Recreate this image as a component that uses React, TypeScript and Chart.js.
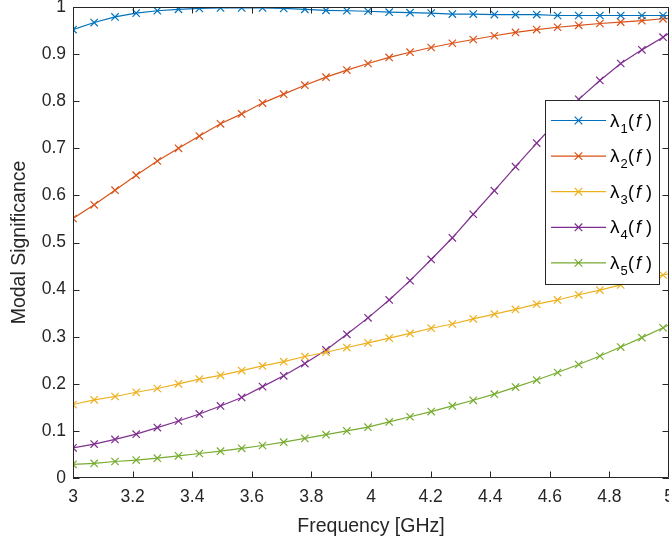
import React, { useEffect, useRef } from "react";
import { Chart, registerables } from "chart.js";

Chart.register(...registerables);

// Frequency points (GHz) carrying markers, plus the right-edge end point
const freq = [
  3.0, 3.071, 3.141, 3.212, 3.283, 3.354, 3.424, 3.495, 3.566, 3.636,
  3.707, 3.778, 3.849, 3.919, 3.99, 4.061, 4.131, 4.202, 4.273, 4.343,
  4.414, 4.485, 4.556, 4.626, 4.697, 4.768, 4.838, 4.909, 4.98, 5.0,
];

const lambda1 = [
  0.952, 0.967, 0.979, 0.987, 0.992, 0.995, 0.997, 0.998, 0.998, 0.998,
  0.997, 0.995, 0.993, 0.992, 0.991, 0.989, 0.988, 0.987, 0.985, 0.985,
  0.984, 0.984, 0.984, 0.982, 0.982, 0.982, 0.982, 0.982, 0.982, 0.982,
];
const lambda2 = [
  0.551, 0.58, 0.611, 0.643, 0.673, 0.7, 0.726, 0.752, 0.773, 0.796,
  0.815, 0.834, 0.851, 0.866, 0.88, 0.893, 0.904, 0.914, 0.923, 0.931,
  0.939, 0.946, 0.952, 0.957, 0.961, 0.965, 0.968, 0.971, 0.975, 0.976,
];
const lambda3 = [
  0.156, 0.166, 0.173, 0.182, 0.19, 0.2, 0.21, 0.218, 0.228, 0.238,
  0.247, 0.258, 0.267, 0.277, 0.287, 0.297, 0.307, 0.318, 0.327, 0.338,
  0.348, 0.358, 0.369, 0.378, 0.389, 0.399, 0.41, 0.42, 0.431, 0.434,
];
const lambda4 = [
  0.064, 0.072, 0.082, 0.093, 0.107, 0.121, 0.136, 0.153, 0.171, 0.194,
  0.217, 0.243, 0.272, 0.305, 0.34, 0.378, 0.419, 0.464, 0.51, 0.56,
  0.61, 0.661, 0.711, 0.759, 0.804, 0.844, 0.88, 0.909, 0.936, 0.944,
];
const lambda5 = [
  0.029, 0.031, 0.035, 0.038, 0.042, 0.047, 0.052, 0.057, 0.063, 0.069,
  0.076, 0.084, 0.092, 0.1, 0.108, 0.119, 0.13, 0.141, 0.153, 0.165,
  0.178, 0.193, 0.208, 0.224, 0.241, 0.259, 0.278, 0.298, 0.319, 0.325,
];

const seriesIndex = ["1", "2", "3", "4", "5"];
const seriesValues = [lambda1, lambda2, lambda3, lambda4, lambda5];
const seriesColors = ["#0072BD", "#D95319", "#EDB120", "#7E2F8E", "#77AC30"];

const xTicks = [3, 3.2, 3.4, 3.6, 3.8, 4, 4.2, 4.4, 4.6, 4.8, 5];
const yTicks = [0, 0.1, 0.2, 0.3, 0.4, 0.5, 0.6, 0.7, 0.8, 0.9, 1];

const xTitle = "Frequency [GHz]";
const yTitle = "Modal Significance";

const AXIS = "#262626";
const FONT = "'Liberation Sans', Arial, Helvetica, sans-serif";

const boxPlugin = {
  id: "matlabBox",
  afterDraw(chart: any) {
    const { ctx, chartArea, scales } = chart;
    const { left, right, top, bottom } = chartArea;
    ctx.save();
    ctx.strokeStyle = AXIS;
    ctx.lineWidth = 1;
    // box
    ctx.beginPath();
    ctx.rect(left + 0.5, top + 0.5, right - left - 1, bottom - top - 1);
    ctx.stroke();
    // inner ticks
    const tl = 6.5;
    ctx.beginPath();
    for (const v of xTicks) {
      const px = Math.round(scales.x.getPixelForValue(v)) + 0.5;
      ctx.moveTo(px, bottom);
      ctx.lineTo(px, bottom - tl);
      ctx.moveTo(px, top);
      ctx.lineTo(px, top + tl);
    }
    for (const v of yTicks) {
      const py = Math.round(scales.y.getPixelForValue(v)) + 0.5;
      ctx.moveTo(left, py);
      ctx.lineTo(left + tl, py);
      ctx.moveTo(right, py);
      ctx.lineTo(right - tl, py);
    }
    ctx.stroke();

    // legend
    const lx = 545.5, ly = 100.5, lw = 114, lh = 184;
    ctx.fillStyle = "#ffffff";
    ctx.fillRect(lx, ly, lw, lh);
    ctx.strokeStyle = AXIS;
    ctx.strokeRect(lx, ly, lw, lh);
    chart.data.datasets.forEach((ds: any, i: number) => {
      const cy = 120.5 + i * 35.6;
      ctx.strokeStyle = ds.borderColor;
      ctx.lineWidth = 1.2;
      ctx.beginPath();
      ctx.moveTo(551, cy);
      ctx.lineTo(606, cy);
      const mx = 578.5, r = 3.8;
      ctx.moveTo(mx - r, cy - r);
      ctx.lineTo(mx + r, cy + r);
      ctx.moveTo(mx - r, cy + r);
      ctx.lineTo(mx + r, cy - r);
      ctx.stroke();
      const base = cy + 6;
      ctx.fillStyle = "#000000";
      ctx.textBaseline = "alphabetic";
      ctx.textAlign = "left";
      ctx.font = `19px ${FONT}`;
      ctx.fillText("λ", 610, base);
      ctx.font = `13px ${FONT}`;
      ctx.fillText(ds.sub, 620.5, base + 6);
      ctx.font = `18px ${FONT}`;
      ctx.fillText("(", 628, base);
      ctx.font = `italic 18px ${FONT}`;
      ctx.fillText("f", 636, base);
      ctx.font = `18px ${FONT}`;
      ctx.fillText(")", 646, base);
    });
    ctx.restore();
  },
};

export default function App() {
  const ref = useRef<HTMLCanvasElement | null>(null);

  useEffect(() => {
    if (!ref.current) return;
    const markerCount = freq.length - 1;
    const datasets = seriesValues.map((vals, i) => ({
      label: `λ${seriesIndex[i]}(f)`,
      sub: seriesIndex[i],
      data: freq.map((f, k) => ({ x: f, y: vals[k] })),
      borderColor: seriesColors[i],
      backgroundColor: seriesColors[i],
      borderWidth: 1.2,
      pointStyle: "crossRot",
      pointRadius: freq.map((_, k) => (k < markerCount ? 5.2 : 0)),
      pointHoverRadius: 0,
      pointBorderWidth: 1.2,
      pointBorderColor: seriesColors[i],
      tension: 0,
      fill: false,
    }));

    const chart = new Chart(ref.current, {
      type: "line",
      data: { datasets } as any,
      plugins: [boxPlugin],
      options: {
        animation: false,
        responsive: true,
        maintainAspectRatio: false,
        layout: { autoPadding: false, padding: { top: 7, right: 0, left: 0, bottom: 0 } },
        plugins: { legend: { display: false }, tooltip: { enabled: false } },
        scales: {
          x: {
            type: "linear",
            min: 3,
            max: 5,
            afterBuildTicks: (s: any) => {
              s.ticks = xTicks.map((v) => ({ value: v }));
            },
            afterFit: (s: any) => {
              s.height = 65;
              s.paddingLeft = 0;
              s.paddingRight = 0;
            },
            grid: { display: true, drawOnChartArea: false, drawTicks: false },
            border: { display: false },
            ticks: {
              autoSkip: false,
              maxRotation: 0,
              padding: 9,
              color: AXIS,
              font: { family: FONT, size: 17.5 },
              callback: (v: any) => String(Number(Number(v).toFixed(1))),
            },
            title: {
              display: true,
              text: xTitle,
              color: AXIS,
              font: { family: FONT, size: 19.5 },
              padding: { top: 0, bottom: 5 },
            },
          },
          y: {
            type: "linear",
            min: 0,
            max: 1,
            afterBuildTicks: (s: any) => {
              s.ticks = yTicks.map((v) => ({ value: v }));
            },
            afterFit: (s: any) => {
              s.width = 73;
              s.paddingTop = 0;
              s.paddingBottom = 0;
            },
            grid: { display: true, drawOnChartArea: false, drawTicks: false },
            border: { display: false },
            ticks: {
              autoSkip: false,
              padding: 7,
              color: AXIS,
              font: { family: FONT, size: 17.5 },
              callback: (v: any) => String(Number(Number(v).toFixed(1))),
            },
            title: {
              display: true,
              text: yTitle,
              color: AXIS,
              font: { family: FONT, size: 19.5 },
              padding: { top: 8, bottom: 0 },
            },
          },
        },
      } as any,
    });
    return () => chart.destroy();
  }, []);

  return (
    <div style={{ position: "absolute", left: 0, top: 0, width: 669, height: 543, background: "#fff" }}>
      <canvas ref={ref} />
    </div>
  );
}
